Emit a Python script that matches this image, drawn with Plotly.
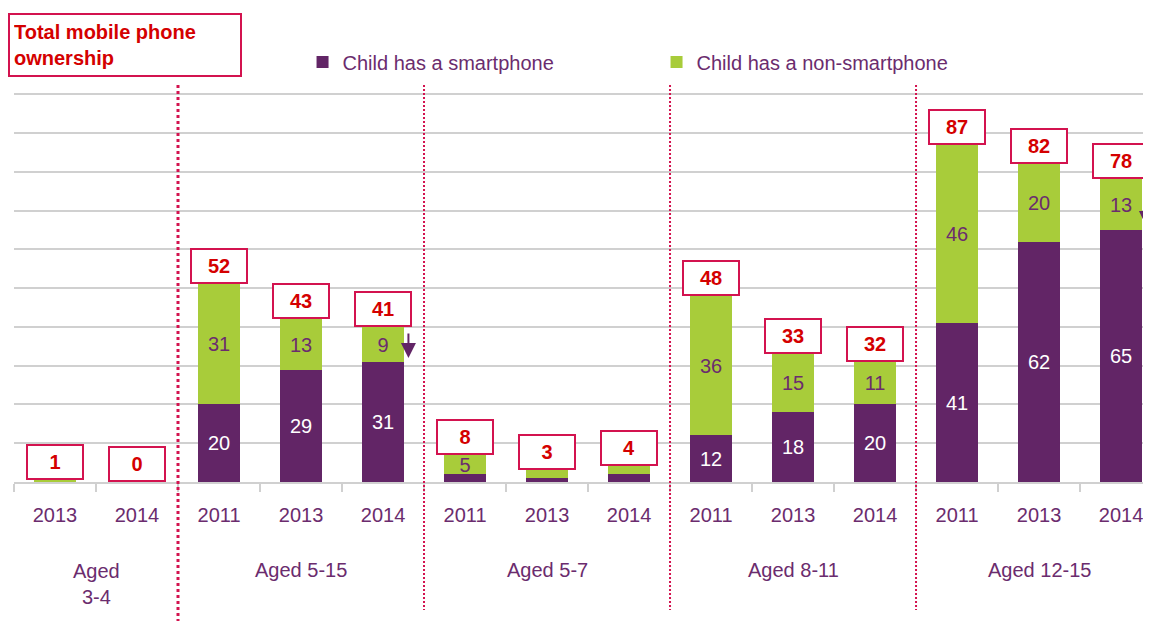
import plotly.graph_objects as go

years = ['2013', '2014', '2011', '2013', '2014', '2011', '2013', '2014',
         '2011', '2013', '2014', '2011', '2013', '2014']
smartphone = [0, 0, 20, 29, 31, 2, 1, 2, 12, 18, 20, 41, 62, 65]
non_smartphone = [0.5, 0, 31, 13, 9, 5, 2, 2, 36, 15, 11, 46, 20, 13]
totals = [1, 0, 52, 43, 41, 8, 3, 4, 48, 33, 32, 87, 82, 78]
groups = ['Aged<br>3-4', 'Aged 5-15', 'Aged 5-7', 'Aged 8-11', 'Aged 12-15']
group_span = [(0, 1), (2, 4), (5, 7), (8, 10), (11, 13)]
arrow_bars = [4, 13]  # bars with a "down" arrow

PURPLE = '#622566'
GREEN = '#a8cc3a'
CRIMSON = '#d3134f'
RED = '#d40000'
TXT = '#6b2c6e'
FONT = 'Arial, Liberation Sans, sans-serif'

x = list(range(len(years)))


def lbl(vals):
    return [str(v) if v >= 5 else '' for v in vals]


fig = go.Figure()
fig.add_trace(go.Bar(
    x=x, y=smartphone, name='Child has a smartphone',
    marker_color=PURPLE, marker_line_width=0, width=0.52,
    text=lbl(smartphone), textposition='inside', insidetextanchor='middle',
    textangle=0, textfont=dict(color='white', size=20, family=FONT),
    hoverinfo='skip'
))
fig.add_trace(go.Bar(
    x=x, y=non_smartphone, name='Child has a non-smartphone',
    marker_color=GREEN, marker_line_width=0, width=0.52,
    text=lbl(non_smartphone), textposition='inside', insidetextanchor='middle',
    textangle=0, textfont=dict(color=TXT, size=20, family=FONT),
    hoverinfo='skip'
))

# total boxes above each bar
for i, t in enumerate(totals):
    top = smartphone[i] + non_smartphone[i]
    fig.add_annotation(
        x=i, y=top, xref='x', yref='y', text='<b>%d</b>' % t,
        showarrow=False, yanchor='bottom', yshift=0,
        width=52, height=30, borderpad=1, borderwidth=2,
        bordercolor=CRIMSON, bgcolor='white',
        font=dict(color=RED, size=20, family=FONT)
    )

# down arrows
for i in arrow_bars:
    fig.add_annotation(
        x=i + 0.31, y=smartphone[i] + 1, xref='x', yref='y',
        showarrow=True, ax=0, ay=-26, arrowhead=2, arrowsize=1.5,
        arrowwidth=2, arrowcolor=PURPLE, text=''
    )

# group labels
for g, (a, b) in zip(groups, group_span):
    fig.add_annotation(
        x=(a + b) / 2, y=-0.226 if '<br>' not in g else -0.262,
        xref='x', yref='paper', text=g, showarrow=False,
        yanchor='middle', font=dict(color=TXT, size=20, family=FONT)
    )

# dotted separators
for k, (a, b) in enumerate(group_span[:-1]):
    xs = b + 0.5
    fig.add_shape(
        type='line', xref='x', yref='paper', x0=xs, x1=xs,
        y0=1.0206, y1=-0.36 if k == 0 else -0.329,
        line=dict(color=CRIMSON, width=3 if k == 0 else 2,
                  dash='3px,3px' if k == 0 else '2px,2px')
    )

# title box
fig.add_annotation(
    x=-0.0052, y=1.2057, xref='paper', yref='paper',
    xanchor='left', yanchor='top', align='left', valign='middle',
    text='<b>Total mobile phone<br>ownership</b>', showarrow=False,
    width=222, height=52, borderpad=4, borderwidth=2,
    bordercolor=CRIMSON, bgcolor='white',
    font=dict(color=RED, size=20, family=FONT)
)

# the page adds an 8px body margin, so margins are shifted by 8px
fig.update_layout(
    width=1151, height=621,
    margin=dict(l=6, r=0, t=85, b=147, autoexpand=False),
    barmode='stack', bargap=0,
    plot_bgcolor='white', paper_bgcolor='white',
    font=dict(family=FONT, color=TXT, size=20),
    uniformtext=dict(minsize=20, mode='show'),
    showlegend=True,
    legend=dict(orientation='h', x=0.252, xanchor='left', y=1.0797,
                yanchor='middle', font=dict(size=20, color=TXT),
                traceorder='normal',
                entrywidth=309, itemwidth=30, bgcolor='rgba(0,0,0,0)'),
)
fig.update_xaxes(
    range=[-0.5, 13.463], tickmode='array', tickvals=x, ticktext=years,
    ticks='', showgrid=False, zeroline=False,
    showline=True, linecolor='#d0d0d0', linewidth=2,
    tickfont=dict(size=20, color=TXT), ticklabelstandoff=14,
    minor=dict(tickmode='linear', tick0=-0.5, dtick=1, ticks='outside',
               ticklen=8, tickcolor='#d0d0d0', tickwidth=2, showgrid=False)
)
fig.update_yaxes(
    range=[0, 100.3], tickmode='linear', tick0=0, dtick=10,
    showticklabels=False, showgrid=True,
    gridcolor='#d0d0d0', gridwidth=2, zeroline=False, fixedrange=True
)

fig.write_html('out.html')
